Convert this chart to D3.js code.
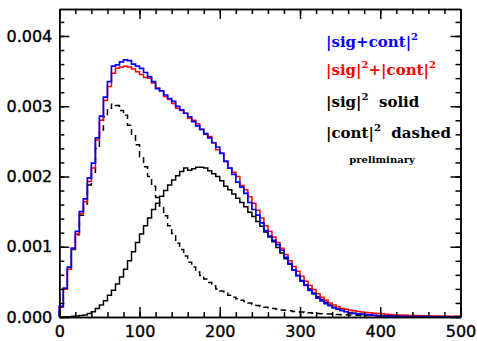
<!DOCTYPE html>
<html lang="en">
<head>
<meta charset="UTF-8">
<title>sig / cont histograms</title>
<style>
    body { margin: 0; background: #fff; }
    .axis text { font-family: "DejaVu Sans", sans-serif; font-size: 16px; fill: #000; stroke: #000; stroke-width: 0.35; }
    .axis path, .axis line { stroke: #000; stroke-width: 1.5; }
    .legend { font-family: "DejaVu Serif", serif; font-weight: bold; font-size: 15px; }
</style>
</head>
<body>
<script src="https://d3js.org/d3.v7.min.js"></script>
<script>
// histogram bins of width 5, from 0 to 500; values in units of 1e-3
const binEdges = d3.range(0, 505, 5);

const sigCont = [0.15,0.41,0.71,0.98,1.22,1.50,1.68,1.98,2.19,2.55,
    2.86,3.13,3.35,3.57,3.59,3.63,3.66,3.65,3.60,3.57,
    3.54,3.48,3.42,3.35,3.25,3.22,3.16,3.11,3.07,3.00,
    2.95,2.90,2.85,2.78,2.72,2.67,2.61,2.55,2.48,2.42,
    2.33,2.22,2.12,2.03,1.92,1.85,1.76,1.63,1.53,1.45,
    1.34,1.23,1.15,1.09,1.03,0.95,0.85,0.76,0.67,0.59,
    0.51,0.45,0.38,0.33,0.27,0.23,0.19,0.16,0.13,0.11,
    0.09,0.075,0.06,0.05,0.045,0.04,0.035,0.03,0.025,0.02,
    0.018,0.015,0.012,0.011,0.01,0.009,0.008,0.007,0.006,0.005,
    0.005,0.004,0.004,0.003,0.003,0.003,0.002,0.002,0.002,0.002];

const sigPlusCont = [0.14,0.40,0.68,0.97,1.18,1.47,1.64,1.93,2.12,2.52,
    2.80,3.08,3.28,3.47,3.54,3.56,3.57,3.56,3.53,3.49,
    3.45,3.41,3.40,3.33,3.26,3.22,3.14,3.10,3.04,2.97,
    2.94,2.90,2.83,2.80,2.75,2.67,2.60,2.57,2.48,2.38,
    2.33,2.21,2.12,2.06,2.00,1.87,1.81,1.71,1.62,1.52,
    1.41,1.30,1.22,1.14,1.06,0.98,0.89,0.80,0.72,0.65,
    0.58,0.51,0.45,0.39,0.33,0.28,0.24,0.20,0.17,0.145,
    0.12,0.11,0.10,0.09,0.08,0.07,0.065,0.06,0.055,0.05,
    0.045,0.04,0.035,0.032,0.03,0.027,0.025,0.023,0.021,0.02,
    0.018,0.017,0.016,0.015,0.014,0.013,0.012,0.012,0.011,0.011];

const sigOnly = [0.0,0.0,0.005,0.01,0.015,0.02,0.03,0.05,0.076,0.12,
    0.17,0.23,0.31,0.38,0.47,0.57,0.68,0.80,0.93,1.06,
    1.18,1.30,1.41,1.53,1.62,1.72,1.80,1.88,1.95,2.01,
    2.07,2.12,2.09,2.11,2.13,2.13,2.12,2.08,2.04,2.00,
    1.94,1.86,1.81,1.75,1.69,1.63,1.57,1.49,1.43,1.36,
    1.29,1.21,1.14,1.07,0.99,0.91,0.83,0.75,0.67,0.59,
    0.52,0.46,0.40,0.34,0.29,0.25,0.21,0.17,0.14,0.115,
    0.095,0.08,0.065,0.055,0.045,0.037,0.03,0.025,0.02,0.017,
    0.014,0.012,0.01,0.008,0.007,0.006,0.005,0.004,0.004,0.003,
    0.003,0.002,0.002,0.002,0.002,0.001,0.001,0.001,0.001,0.001];

const contOnly = [0.14,0.40,0.68,0.96,1.17,1.45,1.61,1.88,2.06,2.40,
    2.66,2.85,2.97,3.03,3.01,2.94,2.87,2.73,2.60,2.45,
    2.28,2.14,2.00,1.86,1.70,1.56,1.44,1.30,1.19,1.05,
    0.96,0.87,0.78,0.71,0.64,0.59,0.54,0.49,0.44,0.40,
    0.37,0.34,0.31,0.28,0.26,0.24,0.22,0.20,0.18,0.165,
    0.15,0.14,0.13,0.12,0.11,0.10,0.095,0.09,0.08,0.075,
    0.07,0.065,0.06,0.055,0.05,0.047,0.044,0.041,0.038,0.035,
    0.033,0.031,0.029,0.027,0.025,0.023,0.022,0.02,0.019,0.018,
    0.017,0.016,0.015,0.014,0.013,0.012,0.011,0.011,0.01,0.01,
    0.009,0.009,0.008,0.008,0.008,0.007,0.007,0.007,0.006,0.006];

const xTicks = [0, 100, 200, 300, 400, 500];
const xMinor = d3.range(0, 501, 20);
const yTicks = [0, 1, 2, 3, 4];
const yTickLabels = ["0.000", "0.001", "0.002", "0.003", "0.004"];
const yMinor = d3.range(0, 4.39, 0.2);

const width = 477, height = 341;
const plotLeft = 59.3, plotRight = 460.5, plotTop = 9, plotBottom = 317;

const svg = d3.select("body").append("svg")
    .attr("width", width)
    .attr("height", height);

const x = d3.scaleLinear().domain([0, 500]).range([plotLeft, plotRight]);
const y = d3.scaleLinear().domain([0, 4.384]).range([plotBottom, plotTop]);

// histogram as a step path
function stepPath(values) {
    const pts = [[x(binEdges[0]), y(0)]];
    values.forEach((v, i) => {
        pts.push([x(binEdges[i]), y(v)]);
        pts.push([x(binEdges[i + 1]), y(v)]);
    });
    return d3.line()(pts);
}

const hist = svg.append("g").attr("fill", "none");

hist.append("path")
    .attr("d", stepPath(contOnly))
    .attr("stroke", "#000")
    .attr("stroke-width", 1.5)
    .attr("stroke-dasharray", "6,4");

hist.append("path")
    .attr("d", stepPath(sigOnly))
    .attr("stroke", "#000")
    .attr("stroke-width", 1.5);

hist.append("path")
    .attr("d", stepPath(sigPlusCont))
    .attr("stroke", "#ff0000")
    .attr("stroke-width", 1.5);

hist.append("path")
    .attr("d", stepPath(sigCont))
    .attr("stroke", "#0000ff")
    .attr("stroke-width", 1.7);

// axes: major + minor ticks pointing inward on all four sides
function addAxis(axis, tr) {
    return svg.append("g").attr("class", "axis")
        .attr("transform", tr).call(axis);
}

addAxis(d3.axisBottom(x).tickValues(xMinor).tickSize(-5).tickSizeOuter(0).tickFormat(""), `translate(0,${plotBottom})`);
addAxis(d3.axisBottom(x).tickValues(xTicks).tickSize(-10).tickSizeOuter(0).tickPadding(9).tickFormat(d3.format("d")), `translate(0,${plotBottom})`);
addAxis(d3.axisTop(x).tickValues(xMinor).tickSize(-5).tickSizeOuter(0).tickFormat(""), `translate(0,${plotTop})`);
addAxis(d3.axisTop(x).tickValues(xTicks).tickSize(-10).tickSizeOuter(0).tickFormat(""), `translate(0,${plotTop})`);

addAxis(d3.axisLeft(y).tickValues(yMinor).tickSize(-5).tickSizeOuter(0).tickFormat(""), `translate(${plotLeft},0)`);
addAxis(d3.axisLeft(y).tickValues(yTicks).tickSize(-10).tickSizeOuter(0).tickPadding(7)
    .tickFormat((d, i) => yTickLabels[i]), `translate(${plotLeft},0)`);
addAxis(d3.axisRight(y).tickValues(yMinor).tickSize(-5).tickSizeOuter(0).tickFormat(""), `translate(${plotRight},0)`);
addAxis(d3.axisRight(y).tickValues(yTicks).tickSize(-10).tickSizeOuter(0).tickFormat(""), `translate(${plotRight},0)`);

svg.selectAll(".axis .domain").attr("stroke-width", 1.8);

// legend
const legend = [
    {parts: [["|sig+cont|", 0], ["2", 1]], color: "#0000ff", y: 47},
    {parts: [["|sig|", 0], ["2", 1], ["+|cont|", 0], ["2", 1]], color: "#ff0000", y: 75},
    {parts: [["|sig|", 0], ["2", 1], ["  solid", 0]], color: "#000", y: 107},
    {parts: [["|cont|", 0], ["2", 1], ["  dashed", 0]], color: "#000", y: 138}
];

legend.forEach(l => {
    const t = svg.append("text")
        .attr("class", "legend")
        .attr("x", 326)
        .attr("y", l.y)
        .attr("fill", l.color)
        .attr("xml:space", "preserve");
    let up = false;
    l.parts.forEach(([s, sup]) => {
        const ts = t.append("tspan").text(s);
        if (sup) { ts.attr("font-size", 10).attr("dy", -7); up = true; }
        else if (up) { ts.attr("dy", 7); up = false; }
    });
});

svg.append("text")
    .attr("x", 382)
    .attr("y", 163)
    .attr("text-anchor", "middle")
    .attr("font-family", "DejaVu Serif, serif")
    .attr("font-weight", "bold")
    .attr("font-size", 10)
    .text("preliminary");
</script>
</body>
</html>
